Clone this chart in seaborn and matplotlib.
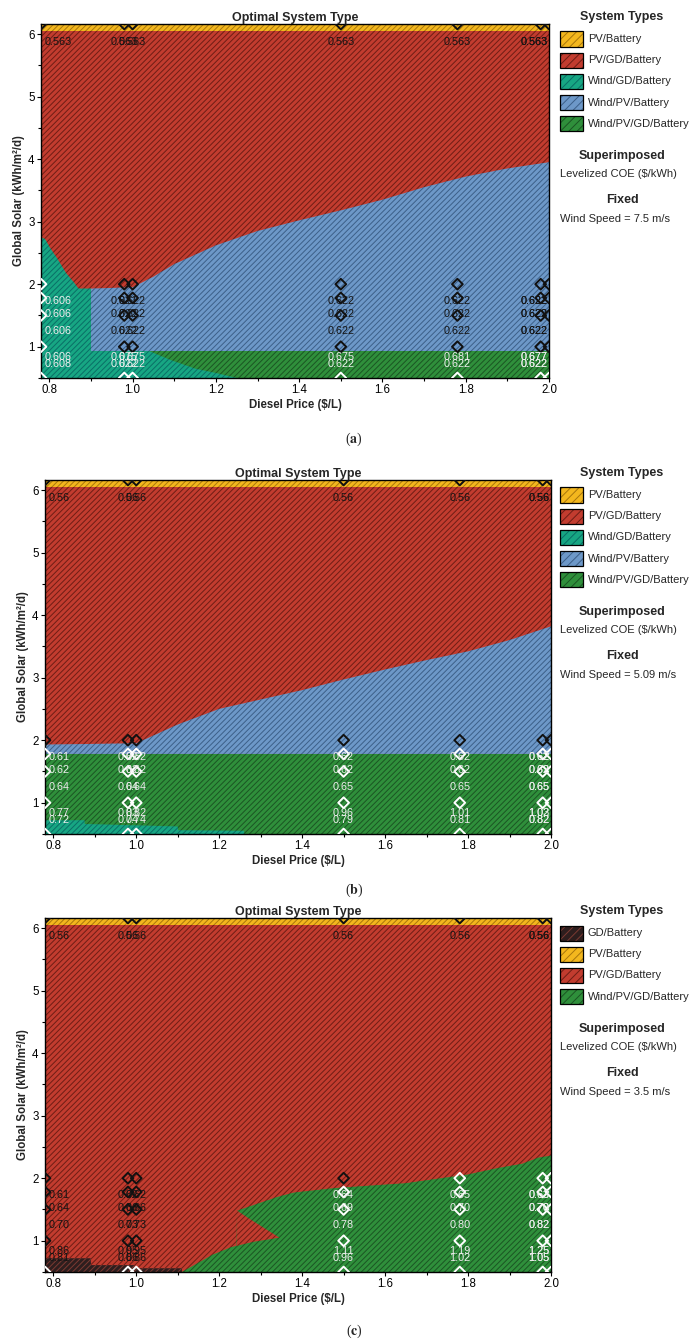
import numpy as np
import pandas as pd
import matplotlib
matplotlib.use("Agg")
import matplotlib.pyplot as plt
from matplotlib.patches import Rectangle
from matplotlib.ticker import MultipleLocator, FormatStrFormatter
import seaborn as sns

# --- style ---
sns.set_theme(style="white")
plt.rcParams["font.family"] = ["Liberation Sans", "DejaVu Sans"]
plt.rcParams["hatch.linewidth"] = 0.7
plt.rcParams["mathtext.fontset"] = "stix"

# --- data ---
x_range = (0.78, 2.0)
y_range = (0.5, 6.16)
pv_band_floor = 6.05

diesel_cols = [0.78, 0.98, 1.0, 1.5, 1.78, 1.98, 2.0]
solar_rows = [2.0, 1.78, 1.5, 1.0, 0.5]
label_rows = [5.87, 1.73, 1.53, 1.25, 0.84, 0.73]

# (a) wind speed 7.5 m/s
a_wind = "7.5"
a_systems = ["PV/Battery", "PV/GD/Battery", "Wind/GD/Battery", "Wind/PV/Battery", "Wind/PV/GD/Battery"]
a_blue_x = [0.90, 1.00, 1.05, 1.10, 1.20, 1.30, 1.40, 1.50, 1.60, 1.70, 1.80, 1.90, 2.00]
a_blue_top = [1.93, 1.95, 2.12, 2.32, 2.62, 2.85, 3.02, 3.18, 3.35, 3.55, 3.72, 3.85, 3.95]
a_blue_floor = 0.93
a_teal_x = [0.78, 0.79, 0.80, 0.82, 0.84, 0.86, 0.87, 0.90]
a_teal_top = [2.75, 2.72, 2.60, 2.40, 2.18, 2.02, 1.93, 1.93]
a_teal_low_x = [0.90, 1.04, 1.09, 1.15, 1.20, 1.25]
a_teal_low_top = [0.93, 0.93, 0.79, 0.65, 0.58, 0.50]
a_labels = [
    ["0.563"] * 7,
    ["0.606", "0.621", "0.622", "0.622", "0.622", "0.622", "0.622"],
    ["0.606", "0.622", "0.622", "0.622", "0.622", "0.622", "0.622"],
    ["0.606", "0.622", "0.622", "0.622", "0.622", "0.622", "0.622"],
    ["0.606", "0.675", "0.675", "0.675", "0.681", "0.677", "0.677"],
    ["0.608", "0.622", "0.622", "0.622", "0.622", "0.622", "0.622"],
]

# (b) wind speed 5.09 m/s
b_wind = "5.09"
b_systems = a_systems
b_blue_x = [0.78, 1.00, 1.05, 1.10, 1.20, 1.30, 1.40, 1.50, 1.60, 1.70, 1.80, 1.90, 2.00]
b_blue_top = [1.93, 1.95, 2.10, 2.25, 2.50, 2.65, 2.80, 2.97, 3.13, 3.28, 3.42, 3.60, 3.82]
b_blue_floor = 1.78
b_teal_x = [0.78, 0.875, 0.876, 1.10, 1.101, 1.26]
b_teal_top = [0.72, 0.72, 0.66, 0.62, 0.56, 0.55]
b_labels = [
    ["0.56"] * 7,
    ["0.61", "0.62", "0.62", "0.62", "0.62", "0.62", "0.62"],
    ["0.62", "0.62", "0.62", "0.62", "0.62", "0.62", "0.62"],
    ["0.64", "0.64", "0.64", "0.65", "0.65", "0.65", "0.65"],
    ["0.77", "0.83", "0.82", "0.96", "1.01", "1.03", "1.02"],
    ["0.72", "0.74", "0.74", "0.79", "0.81", "0.82", "0.82"],
]

# (c) wind speed 3.5 m/s
c_wind = "3.5"
c_systems = ["GD/Battery", "PV/Battery", "PV/GD/Battery", "Wind/PV/GD/Battery"]
c_gd_x = [0.78, 0.89, 0.891, 0.995, 0.996, 1.11]
c_gd_top = [0.72, 0.72, 0.61, 0.61, 0.56, 0.56]
c_green_x = [1.11, 1.185, 1.23, 1.242, 1.243, 1.34, 1.38, 1.475, 1.55, 1.65, 1.80, 1.87, 1.93, 1.97, 2.00]
c_green_top = [0.50, 0.78, 0.90, 0.92, 1.48, 1.70, 1.77, 1.84, 1.875, 1.92, 2.06, 2.16, 2.23, 2.33, 2.36]
c_notch_x = [1.243, 1.28, 1.345]
c_notch_low = [0.92, 0.98, 1.05]
c_notch_top = [1.48, 1.32, 1.05]
c_labels = [
    ["0.56"] * 7,
    ["0.61", "0.62", "0.62", "0.64", "0.65", "0.63", "0.63"],
    ["0.64", "0.66", "0.66", "0.69", "0.70", "0.70", "0.70"],
    ["0.70", "0.73", "0.73", "0.78", "0.80", "0.82", "0.82"],
    ["0.86", "0.95", "0.95", "1.11", "1.19", "1.25", "1.25"],
    ["0.81", "0.86", "0.86", "0.96", "1.02", "1.05", "1.05"],
]

fill_colors = {
    "PV/Battery": "#F3B71E",
    "PV/GD/Battery": "#C23C2F",
    "Wind/GD/Battery": "#17A683",
    "Wind/PV/Battery": "#6D98C8",
    "Wind/PV/GD/Battery": "#2F8F3B",
    "GD/Battery": "#2E1E1E",
}
hatch_colors = {
    "PV/Battery": "#A8760C",
    "PV/GD/Battery": "#6E1D15",
    "Wind/GD/Battery": "#0A6E66",
    "Wind/PV/Battery": "#3C5F88",
    "Wind/PV/GD/Battery": "#1B5523",
    "GD/Battery": "#7C3A32",
}
dark_systems = {"Wind/GD/Battery", "Wind/PV/GD/Battery", "GD/Battery"}

full_x = list(x_range)
a_layers = [
    ("PV/GD/Battery", full_x, y_range[0], pv_band_floor),
    ("PV/Battery", full_x, pv_band_floor, y_range[1]),
    ("Wind/PV/Battery", a_blue_x, a_blue_floor, a_blue_top),
    ("Wind/PV/GD/Battery", [0.90, 2.0], y_range[0], a_blue_floor),
    ("Wind/GD/Battery", a_teal_x, y_range[0], a_teal_top),
    ("Wind/GD/Battery", a_teal_low_x, y_range[0], a_teal_low_top),
]
b_layers = [
    ("PV/GD/Battery", full_x, y_range[0], pv_band_floor),
    ("PV/Battery", full_x, pv_band_floor, y_range[1]),
    ("Wind/PV/Battery", b_blue_x, b_blue_floor, b_blue_top),
    ("Wind/PV/GD/Battery", full_x, y_range[0], b_blue_floor),
    ("Wind/GD/Battery", b_teal_x, y_range[0], b_teal_top),
]
c_layers = [
    ("PV/GD/Battery", full_x, y_range[0], pv_band_floor),
    ("PV/Battery", full_x, pv_band_floor, y_range[1]),
    ("GD/Battery", c_gd_x, y_range[0], c_gd_top),
    ("Wind/PV/GD/Battery", c_green_x, y_range[0], c_green_top),
    ("PV/GD/Battery", c_notch_x, c_notch_low, c_notch_top),
]

W, H = 689, 1343
panels = [
    dict(tag="a", box=(41, 24, 549, 378), layers=a_layers, labels=a_labels, systems=a_systems, wind=a_wind, cap=439),
    dict(tag="b", box=(45, 480, 551, 834), layers=b_layers, labels=b_labels, systems=b_systems, wind=b_wind, cap=890),
    dict(tag="c", box=(45, 918, 551, 1272), layers=c_layers, labels=c_labels, systems=c_systems, wind=c_wind, cap=1331),
]


def fx(px):
    return px / W


def fy(py):
    return 1 - py / H


def as_arrays(xs, lo, hi):
    xs = np.asarray(xs, float)
    return xs, np.asarray(lo, float) + np.zeros_like(xs), np.asarray(hi, float) + np.zeros_like(xs)


def system_at(layers, x, y):
    found = None
    for name, xs, lo, hi in layers:
        xs, lo, hi = as_arrays(xs, lo, hi)
        if xs[0] <= x <= xs[-1]:
            if np.interp(x, xs, lo) <= y <= np.interp(x, xs, hi):
                found = name
    return found


def tone(layers, x, y):
    return "light" if system_at(layers, x, y) in dark_systems else "dark"


fig = plt.figure(figsize=(W / 100, H / 100), dpi=100)

for p in panels:
    l, t, r, b = p["box"]
    ax = fig.add_axes([fx(l), fy(b), (r - l) / W, (b - t) / H])
    layers = p["layers"]

    # system type regions
    for name, xs, lo, hi in layers:
        xs, lo, hi = as_arrays(xs, lo, hi)
        ax.fill_between(xs, lo, hi, facecolor=fill_colors[name], edgecolor=hatch_colors[name],
                        hatch="//////", linewidth=0, zorder=1)

    # sensitivity points
    pts = pd.DataFrame([(x, y) for x in diesel_cols for y in solar_rows + [y_range[1]]],
                       columns=["diesel", "solar"])
    pts["tone"] = [tone(layers, x, y) for x, y in zip(pts["diesel"], pts["solar"])]
    sns.scatterplot(data=pts, x="diesel", y="solar", hue="tone",
                    palette={"dark": "#111111", "light": "white"},
                    marker="D", s=30, linewidth=1.4, legend=False, ax=ax, zorder=5)
    coll = ax.collections[-1]
    coll.set_edgecolors(coll.get_facecolors())
    coll.set_facecolors("none")

    # superimposed levelized COE values
    for row_y, row_vals in zip(label_rows, p["labels"]):
        for col_x, s in zip(diesel_cols, row_vals):
            hw = 0.0068 * len(s)
            tx = min(max(col_x, x_range[0] + hw + 0.008), x_range[1] - hw - 0.002)
            col = "#EDEDED" if tone(layers, tx, row_y) == "light" else "#141414"
            ax.text(tx, row_y, s, ha="center", va="center", fontsize=7.8, color=col,
                    clip_on=True, zorder=6)

    ax.set_xlim(x_range)
    ax.set_ylim(y_range)
    ax.xaxis.set_major_locator(MultipleLocator(0.2))
    ax.xaxis.set_minor_locator(MultipleLocator(0.1))
    ax.yaxis.set_major_locator(MultipleLocator(1))
    ax.yaxis.set_minor_locator(MultipleLocator(0.5))
    ax.xaxis.set_major_formatter(FormatStrFormatter("%.1f"))
    ax.yaxis.set_major_formatter(FormatStrFormatter("%d"))
    ax.tick_params(which="both", direction="out", bottom=True, left=True, top=False, right=False,
                   colors="black", labelsize=8.3, width=0.8, pad=1.5)
    ax.tick_params(which="major", length=3)
    ax.tick_params(which="minor", length=2)
    for sp in ax.spines.values():
        sp.set_visible(True)
        sp.set_color("black")
        sp.set_linewidth(1.0)
    ax.set_title("Optimal System Type", fontsize=9, fontweight="bold", pad=2)
    ax.set_xlabel(r"Diesel Price (\$/L)", fontsize=8.3, fontweight="bold", labelpad=2)
    ax.set_ylabel("Global Solar (kWh/m²/d)", fontsize=8.3, fontweight="bold", labelpad=2)

    # legend block on the right
    cx = 622
    fig.text(fx(cx), fy(t - 7), "System Types", ha="center", va="center", fontsize=9, fontweight="bold")
    y = t + 15
    for name in p["systems"]:
        fig.add_artist(Rectangle((fx(560), fy(y + 7.5)), 23 / W, 15 / H, transform=fig.transFigure,
                                 facecolor=fill_colors[name], edgecolor=hatch_colors[name],
                                 hatch="////", linewidth=0))
        fig.add_artist(Rectangle((fx(560), fy(y + 7.5)), 23 / W, 15 / H, transform=fig.transFigure,
                                 fill=False, edgecolor="black", linewidth=0.9))
        fig.text(fx(588), fy(y), name, ha="left", va="center", fontsize=8)
        y += 21.2
    last = y - 21.2
    fig.text(fx(cx), fy(last + 32), "Superimposed", ha="center", va="center", fontsize=9, fontweight="bold")
    fig.text(fx(560), fy(last + 50), r"Levelized COE (\$/kWh)", ha="left", va="center", fontsize=8)
    fig.text(fx(cx), fy(last + 76), "Fixed", ha="center", va="center", fontsize=9, fontweight="bold")
    fig.text(fx(560), fy(last + 95), f"Wind Speed = {p['wind']} m/s", ha="left", va="center", fontsize=8)

    # panel caption
    fig.text(fx(354), fy(p["cap"]), r"($\mathbf{" + p["tag"] + "}$)", ha="center", va="center",
             fontsize=10, family="Liberation Serif")

fig.savefig("out.png", dpi=100)
